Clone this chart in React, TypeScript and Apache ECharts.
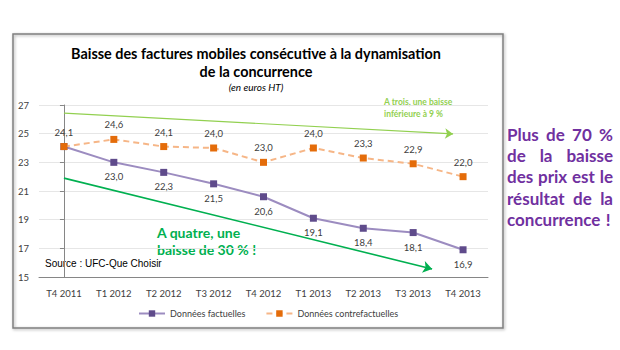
import React, { useEffect, useRef } from "react";
import * as echarts from "echarts";

const categories = ["T4 2011", "T1 2012", "T2 2012", "T3 2012", "T4 2012", "T1 2013", "T2 2013", "T3 2013", "T4 2013"];
const factual = [24.1, 23.0, 22.3, 21.5, 20.6, 19.1, 18.4, 18.1, 16.9];
const counterfactual = [24.1, 24.6, 24.1, 24.0, 23.0, 24.0, 23.3, 22.9, 22.0];
const yTicks = { min: 15, max: 27, interval: 2 };
const arrowTop = [[0, 26.44], [7.8, 24.98]];
const arrowBottom = [[0, 21.9], [7.38, 15.56]];
const sideLines = ["Plus de 70 %", "de la baisse", "des prix est le", "résultat de la", "concurrence !"];

const FONT = "Lato, 'Open Sans', sans-serif";
const fmt = (v: number) => v.toFixed(1).replace(".", ",");

function justified(lines: string[], left: number, right: number, top: number, lh: number, size: number, color: string) {
  const ctx = document.createElement("canvas").getContext("2d")!;
  ctx.font = `bold ${size}px Lato`;
  const space = ctx.measureText(" ").width;
  const out: any[] = [];
  lines.forEach((line, i) => {
    const words = line.split(" ");
    const widths = words.map((w) => ctx.measureText(w).width);
    const total = widths.reduce((a, b) => a + b, 0);
    const last = i === lines.length - 1;
    const gap = last ? space * 1.3 : words.length > 1 ? (right - left - total) / (words.length - 1) : 0;
    let x = left;
    words.forEach((w, j) => {
      out.push({
        type: "text",
        x,
        y: top + i * lh,
        style: { text: w, font: `bold ${size}px ${FONT}`, fill: color, textVerticalAlign: "middle" },
      });
      x += widths[j] + gap;
    });
  });
  return out;
}

export default function App() {
  const ref = useRef<HTMLDivElement>(null);
  useEffect(() => {
    const chart = echarts.init(ref.current!, null, { renderer: "svg" });
    const axisColor = "#868686";
    const textColor = "#404040";
    chart.setOption({
      animation: false,
      backgroundColor: "#ffffff",
      grid: { left: 39, right: 132, top: 105, bottom: 73 },
      xAxis: [
        {
          type: "category",
          data: categories,
          boundaryGap: true,
          axisLine: { lineStyle: { color: axisColor } },
          axisTick: { lineStyle: { color: axisColor }, length: 4 },
          axisLabel: { color: textColor, fontSize: 9.5, fontFamily: FONT, margin: 11 },
        },
        { type: "value", min: -0.5, max: 8.5, show: false },
      ],
      yAxis: {
        type: "value",
        min: yTicks.min,
        max: yTicks.max,
        interval: yTicks.interval,
        axisLine: { show: true, lineStyle: { color: axisColor } },
        axisTick: { show: true, lineStyle: { color: axisColor }, length: 4 },
        axisLabel: { color: textColor, fontSize: 9.5, fontFamily: FONT, margin: 10 },
        splitLine: { lineStyle: { color: "#e6e6e6" } },
      },
      legend: {
        left: 133,
        top: 304,
        itemWidth: 26,
        itemHeight: 8,
        itemGap: 20,
        textStyle: { color: textColor, fontSize: 9, fontFamily: FONT },
        data: ["Données factuelles", "Données contrefactuelles"],
      },
      series: [
        {
          name: "Données factuelles",
          type: "line",
          data: factual,
          symbol: "rect",
          symbolSize: 7,
          itemStyle: { color: "#5f4b8b" },
          lineStyle: { color: "#9c8cc0", width: 2 },
          label: {
            show: true,
            position: "bottom",
            distance: 6,
            color: textColor,
            fontSize: 9.5,
            fontFamily: FONT,
            formatter: (p: any) => (p.dataIndex === 0 ? "" : fmt(p.value)),
          },
          z: 3,
        },
        {
          name: "Données contrefactuelles",
          type: "line",
          data: counterfactual,
          symbol: "rect",
          symbolSize: 7,
          itemStyle: { color: "#e46c0a" },
          lineStyle: { color: "#f6b687", width: 2, type: [6, 4] },
          label: {
            show: true,
            position: "top",
            distance: 6,
            color: textColor,
            fontSize: 9.5,
            fontFamily: FONT,
            formatter: (p: any) => fmt(p.value),
          },
          z: 4,
        },
        {
          type: "lines",
          coordinateSystem: "cartesian2d",
          xAxisIndex: 1,
          yAxisIndex: 0,
          symbol: ["none", "arrow"],
          symbolSize: 8,
          silent: true,
          lineStyle: { color: "#92d050", width: 1.2, opacity: 1 },
          data: [{ coords: arrowTop }],
          z: 2,
        },
        {
          type: "lines",
          coordinateSystem: "cartesian2d",
          xAxisIndex: 1,
          yAxisIndex: 0,
          symbol: ["none", "arrow"],
          symbolSize: 9,
          silent: true,
          lineStyle: { color: "#00b050", width: 1.6, opacity: 1 },
          data: [{ coords: arrowBottom }],
          z: 2,
        },
      ],
      graphic: [
        {
          type: "rect",
          shape: { x: 13, y: 34, width: 490, height: 294 },
          style: { fill: "none", stroke: "#7f7f7f", lineWidth: 1.5, shadowColor: "rgba(0,0,0,0.35)", shadowBlur: 3, shadowOffsetX: 1, shadowOffsetY: 1 },
          z: -1,
        },
        {
          type: "text",
          x: 256,
          y: 53,
          style: { text: "Baisse des factures mobiles consécutive à la dynamisation", font: `bold 14.4px ${FONT}`, fill: "#000", textAlign: "center", textVerticalAlign: "middle" },
        },
        {
          type: "text",
          x: 256,
          y: 71,
          style: { text: "de la concurrence", font: `bold 14.4px ${FONT}`, fill: "#000", textAlign: "center", textVerticalAlign: "middle" },
        },
        {
          type: "text",
          x: 256,
          y: 87,
          style: { text: "(en euros HT)", font: `italic 10px ${FONT}`, fill: "#000", textAlign: "center", textVerticalAlign: "middle" },
        },
        {
          type: "text",
          x: 384,
          y: 107.5,
          style: { text: "A trois, une baisse\ninférieure à 9 %", font: `bold 8.5px ${FONT}`, lineHeight: 12, fill: "#92d050", textVerticalAlign: "middle" },
        },
        {
          type: "text",
          x: 157,
          y: 241,
          style: { text: "A quatre, une\nbaisse de 30 % !", font: `bold 14px ${FONT}`, lineHeight: 16.5, fill: "#00b050", textVerticalAlign: "middle" },
        },
        {
          type: "text",
          x: 45,
          y: 263,
          style: { text: "Source : UFC-Que Choisir", font: `10px 'Liberation Sans', Arial, sans-serif`, fill: "#000", textVerticalAlign: "middle" },
        },
        ...justified(sideLines, 507, 613, 134, 21.4, 17, "#7030a0"),
      ],
    });
    return () => chart.dispose();
  }, []);
  return <div ref={ref} style={{ position: "fixed", left: 0, top: 0, width: 620, height: 350 }} />;
}
